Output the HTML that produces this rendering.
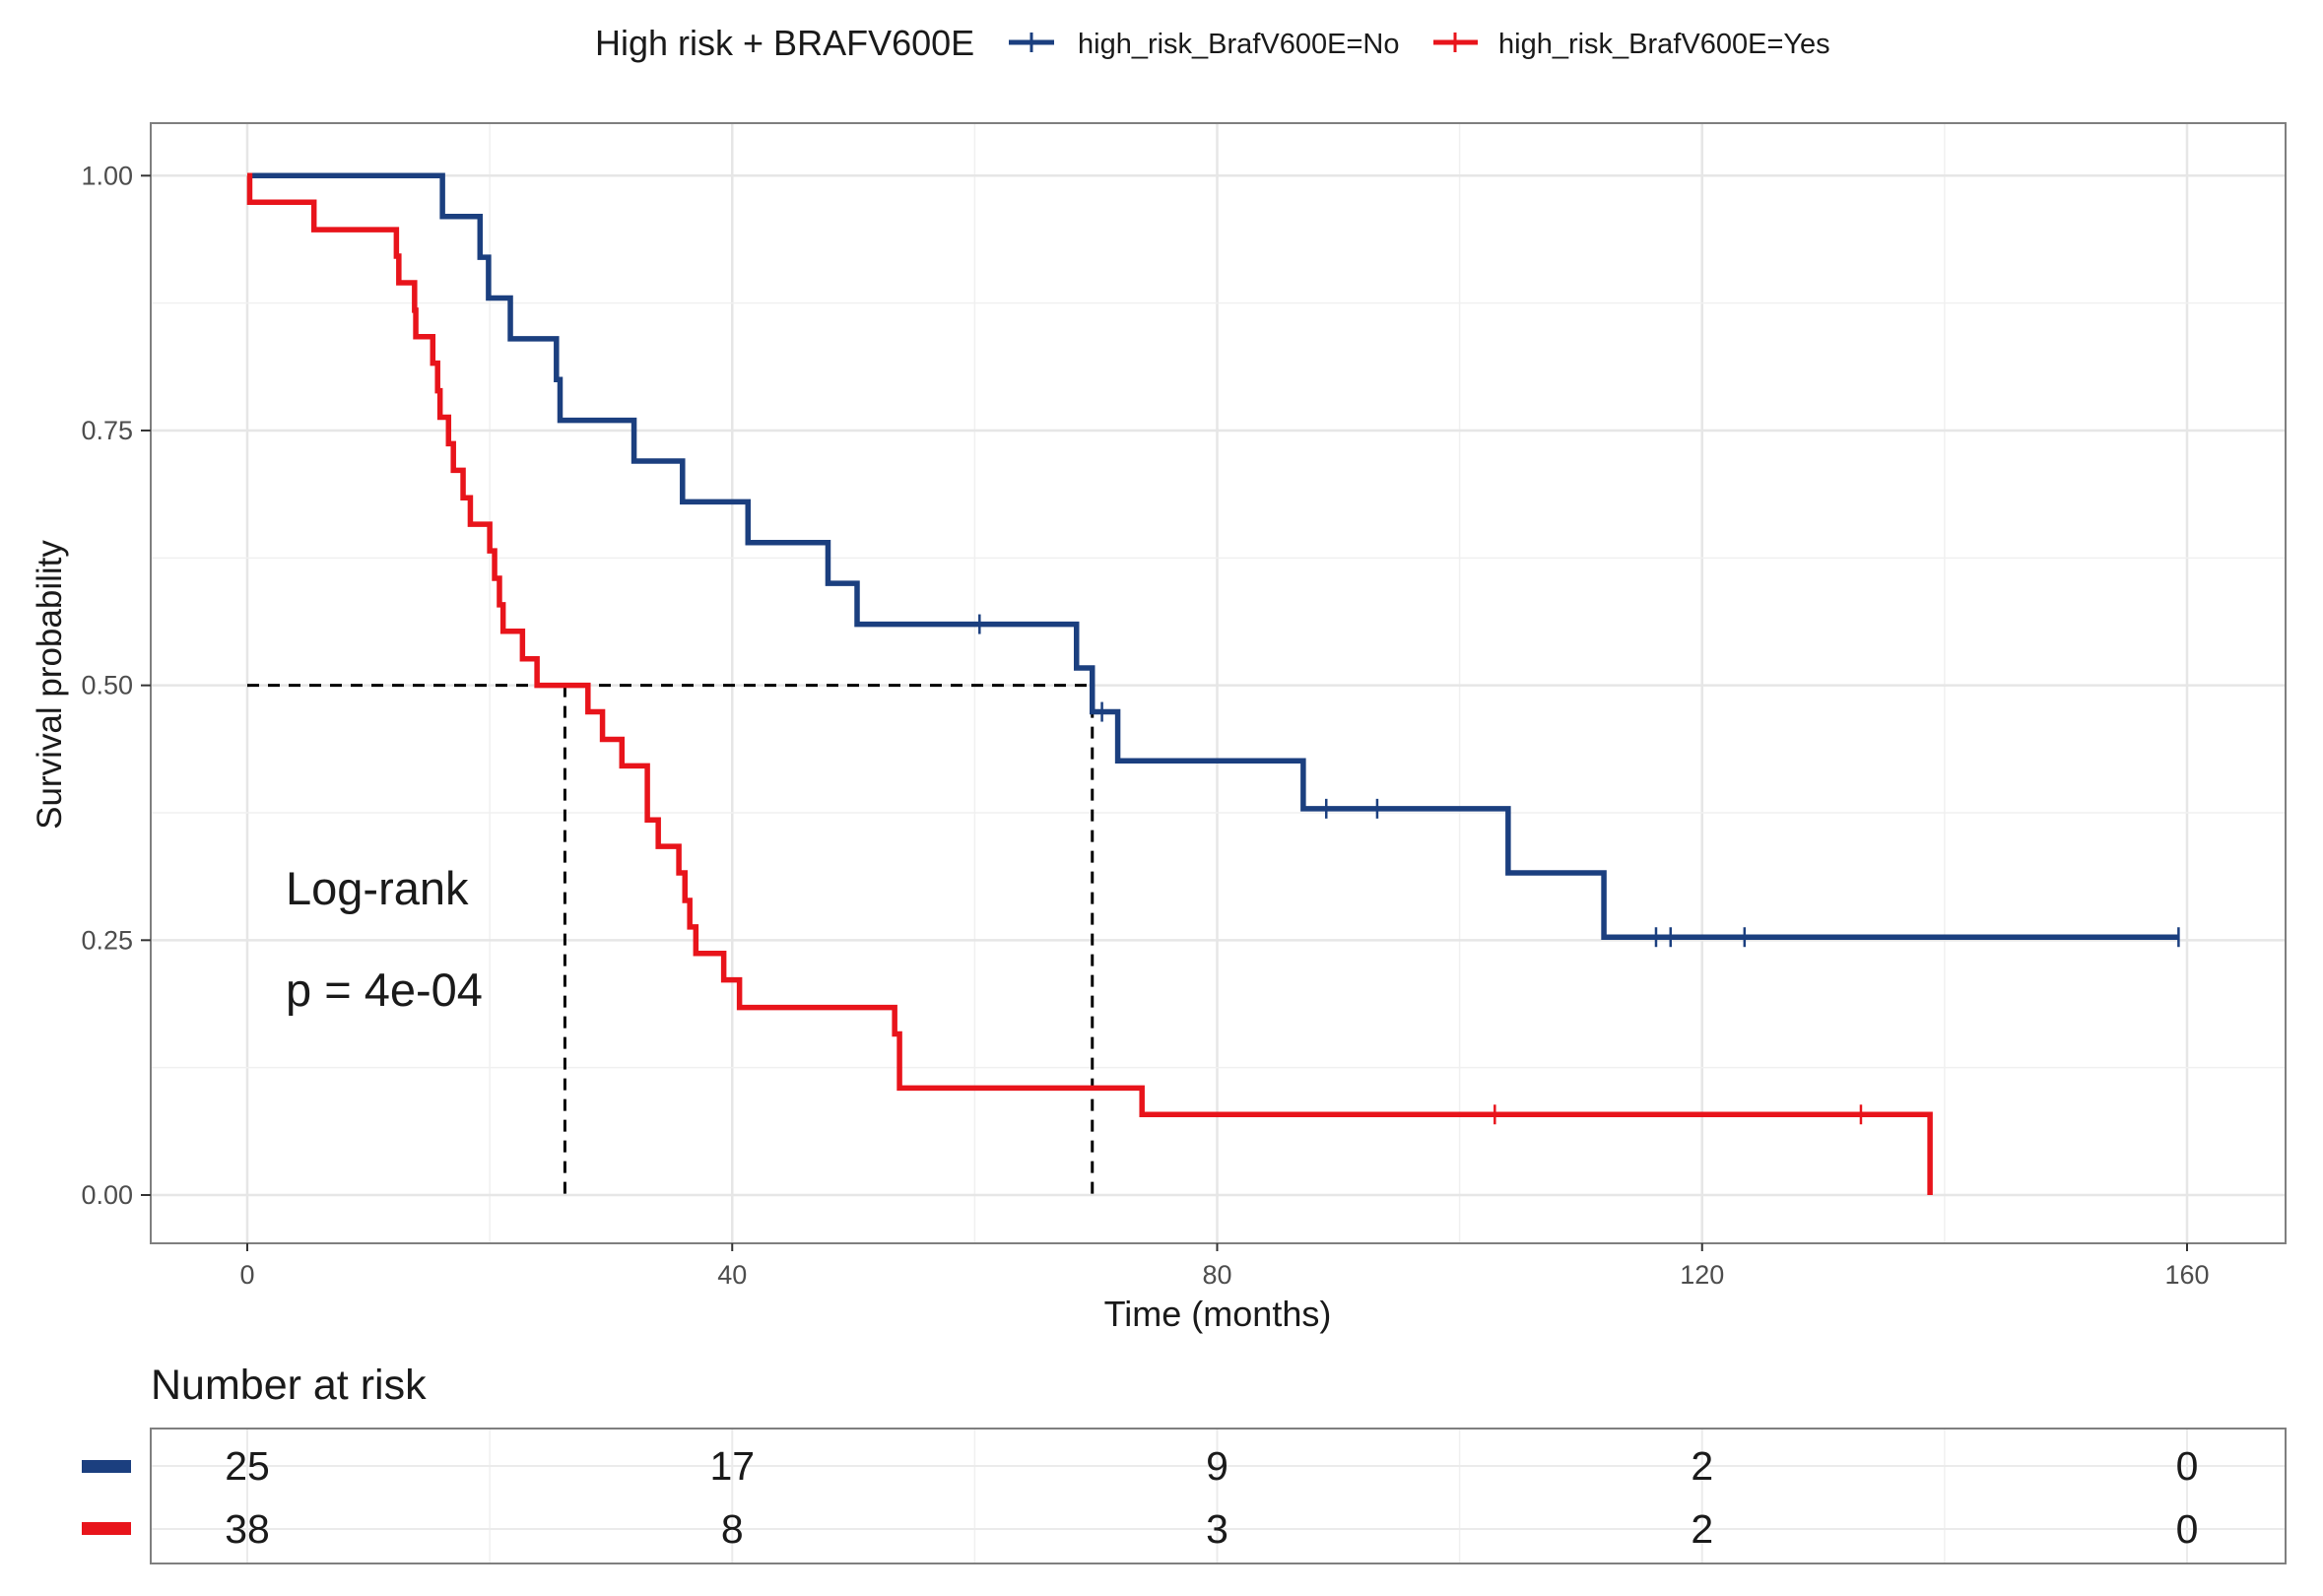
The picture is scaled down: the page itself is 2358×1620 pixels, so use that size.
<!DOCTYPE html>
<html><head><meta charset="utf-8"><style>
html,body{margin:0;padding:0;background:#fff;}
svg{display:block;font-family:"Liberation Sans",Arial,sans-serif;}
</style></head><body>
<svg id="chart" width="2358" height="1620" viewBox="0 0 2358 1620">
<g>
  <text x="604" y="56" font-size="36" fill="#1a1a1a">High risk + BRAFV600E</text>
  <g>
    <line x1="1024" y1="43" x2="1070" y2="43" stroke="#1b3f7f" stroke-width="5"/>
    <line x1="1047" y1="33" x2="1047" y2="53" stroke="#1b3f7f" stroke-width="3"/>
    <text x="1094" y="54" font-size="29" fill="#1a1a1a">high_risk_BrafV600E=No</text>
  </g>
  <g>
    <line x1="1455" y1="43" x2="1500" y2="43" stroke="#e8141b" stroke-width="5"/>
    <line x1="1477" y1="33" x2="1477" y2="53" stroke="#e8141b" stroke-width="3"/>
    <text x="1521" y="54" font-size="29" fill="#1a1a1a">high_risk_BrafV600E=Yes</text>
  </g>
</g>
<g id="grid"></g>
<g id="marks"></g>
<rect x="153" y="125" width="2167" height="1137" fill="none" stroke="#7f7f7f" stroke-width="2"/>
<g id="axes"></g>
<text x="1236" y="1346" font-size="36" text-anchor="middle" fill="#1a1a1a">Time (months)</text>
<text transform="translate(62,695) rotate(-90)" font-size="35" text-anchor="middle" fill="#1a1a1a">Survival probability</text>
<text x="290" y="918" font-size="47" fill="#1a1a1a">Log-rank</text>
<text x="290" y="1021" font-size="47" fill="#1a1a1a">p = 4e-04</text>
<text x="153" y="1420" font-size="43" fill="#1a1a1a">Number at risk</text>
<g id="risk"></g>
</svg>
<script>
const xTicks=[0,40,80,120,160];
const yTicks=[0,0.25,0.5,0.75,1];
const yTickLabels=["0.00","0.25","0.50","0.75","1.00"];
const blueTimes=[0,16.1,19.2,19.9,21.7,25.5,25.8,31.9,35.9,41.3,47.9,50.3,68.4,69.7,71.8,87.1,104.0,111.9,159.3];
const blueSurv=[1,0.96,0.92,0.88,0.84,0.80,0.76,0.72,0.68,0.64,0.60,0.56,0.517,0.474,0.426,0.379,0.316,0.253,0.253];
const blueCensor=[60.4,70.5,89.0,93.2,116.2,117.4,123.5,159.3];
const redTimes=[0,0.2,5.5,12.3,12.5,13.8,13.9,15.3,15.7,15.9,16.6,17.0,17.8,18.4,20.0,20.4,20.8,21.1,22.7,23.9,28.1,29.3,30.9,33.0,33.9,35.6,36.1,36.5,37.0,39.3,40.6,53.4,53.8,73.8,138.8];
const redSurv=[1,0.974,0.947,0.921,0.895,0.868,0.842,0.816,0.789,0.763,0.737,0.711,0.684,0.658,0.632,0.605,0.579,0.553,0.526,0.500,0.474,0.447,0.421,0.368,0.342,0.316,0.289,0.263,0.237,0.211,0.184,0.158,0.105,0.079,0];
const redCensor=[102.9,133.1];
const medians=[26.2,69.7];
const riskBlue=[25,17,9,2,0];
const riskRed=[38,8,3,2,0];
const X=t=>251+t*(2220-251)/160;
const Y=v=>1213-v*(1213-178.3);
const NS="http://www.w3.org/2000/svg";
function mk(tag,attrs,parent){const e=document.createElementNS(NS,tag);for(const k in attrs)e.setAttribute(k,attrs[k]);parent.appendChild(e);return e;}
const grid=document.getElementById('grid'),marks=document.getElementById('marks'),axes=document.getElementById('axes'),risk=document.getElementById('risk');
mk('rect',{x:153,y:125,width:2167,height:1137,fill:'#fff'},grid);
for(let i=0;i<xTicks.length;i++){
  const gx=mk('line',{x1:X(xTicks[i]),x2:X(xTicks[i]),y1:125,y2:1262,stroke:'#e6e6e6','stroke-width':2.5},grid);
  
  if(i<xTicks.length-1){const m=(xTicks[i]+xTicks[i+1])/2;mk('line',{x1:X(m),x2:X(m),y1:125,y2:1262,stroke:'#f0f0f0','stroke-width':1.5},grid);}
  const tk=mk('line',{x1:X(xTicks[i]),x2:X(xTicks[i]),y1:1262,y2:1270,stroke:'#333','stroke-width':2},axes);
  const lb=mk('text',{x:X(xTicks[i]),y:1303,'font-size':27,'text-anchor':'middle',fill:'#4d4d4d'},axes);lb.textContent=xTicks[i];
  
}
for(let i=0;i<yTicks.length;i++){
  const gy=mk('line',{x1:153,x2:2320,y1:Y(yTicks[i]),y2:Y(yTicks[i]),stroke:'#e6e6e6','stroke-width':2.5},grid);
  
  if(i<yTicks.length-1){const m=(yTicks[i]+yTicks[i+1])/2;mk('line',{x1:153,x2:2320,y1:Y(m),y2:Y(m),stroke:'#f0f0f0','stroke-width':1.5},grid);}
  mk('line',{x1:143,x2:153,y1:Y(yTicks[i]),y2:Y(yTicks[i]),stroke:'#333','stroke-width':2},axes);
  const lb=mk('text',{x:135,y:Y(yTicks[i])+9,'font-size':27,'text-anchor':'end',fill:'#4d4d4d'},axes);lb.textContent=yTickLabels[i];
  
}
const mh=mk('line',{x1:X(0),x2:X(medians[1]),y1:Y(0.5),y2:Y(0.5),stroke:'#000','stroke-width':3,'stroke-dasharray':'12,9'},marks);

medians.forEach(m=>{const v=mk('line',{x1:X(m),x2:X(m),y1:Y(0.5),y2:Y(0),stroke:'#000','stroke-width':3,'stroke-dasharray':'12,9'},marks);
  });
function stepPath(ts,ss){let d=`M${X(ts[0])},${Y(ss[0])}`;for(let i=1;i<ts.length;i++){d+=` H${X(ts[i])} V${Y(ss[i])}`;}return d;}
function survAt(ts,ss,t){let v=ss[0];for(let i=0;i<ts.length;i++){if(ts[i]<=t)v=ss[i];}return v;}
function curve(ts,ss,cs,color,name){
  const p=mk('path',{d:stepPath(ts,ss),fill:'none',stroke:color,'stroke-width':5.5,'stroke-linejoin':'miter'},marks);
  
  cs.forEach(c=>{const y=Y(survAt(ts,ss,c));const l=mk('line',{x1:X(c),x2:X(c),y1:y-10,y2:y+10,stroke:color,'stroke-width':2.5},marks);
    });
}
curve(blueTimes,blueSurv,blueCensor,'#1b3f7f','curve-braf-no');
curve(redTimes,redSurv,redCensor,'#e8141b','curve-braf-yes');
mk('rect',{x:153,y:1450,width:2167,height:137,fill:'#fff'},risk);
xTicks.forEach((t,i)=>{mk('line',{x1:X(t),x2:X(t),y1:1450,y2:1587,stroke:'#ebebeb','stroke-width':2},risk);
  if(i<xTicks.length-1){const m=(t+xTicks[i+1])/2;mk('line',{x1:X(m),x2:X(m),y1:1450,y2:1587,stroke:'#f0f0f0','stroke-width':1.5},risk);}});
[1488,1552].forEach(y=>mk('line',{x1:153,x2:2320,y1:y,y2:y,stroke:'#ebebeb','stroke-width':2},risk));
mk('rect',{x:153,y:1450,width:2167,height:137,fill:'none',stroke:'#7f7f7f','stroke-width':2},risk);
const kb=mk('rect',{x:83,y:1482,width:50,height:13,fill:'#1b3f7f'},risk);
const kr=mk('rect',{x:83,y:1545,width:50,height:13,fill:'#e8141b'},risk);
xTicks.forEach((t,i)=>{
  const a=mk('text',{x:X(t),y:1502,'font-size':41,'text-anchor':'middle',fill:'#1a1a1a'},risk);a.textContent=riskBlue[i];
  
  const b=mk('text',{x:X(t),y:1566,'font-size':41,'text-anchor':'middle',fill:'#1a1a1a'},risk);b.textContent=riskRed[i];
  
});
</script>
</body></html>
